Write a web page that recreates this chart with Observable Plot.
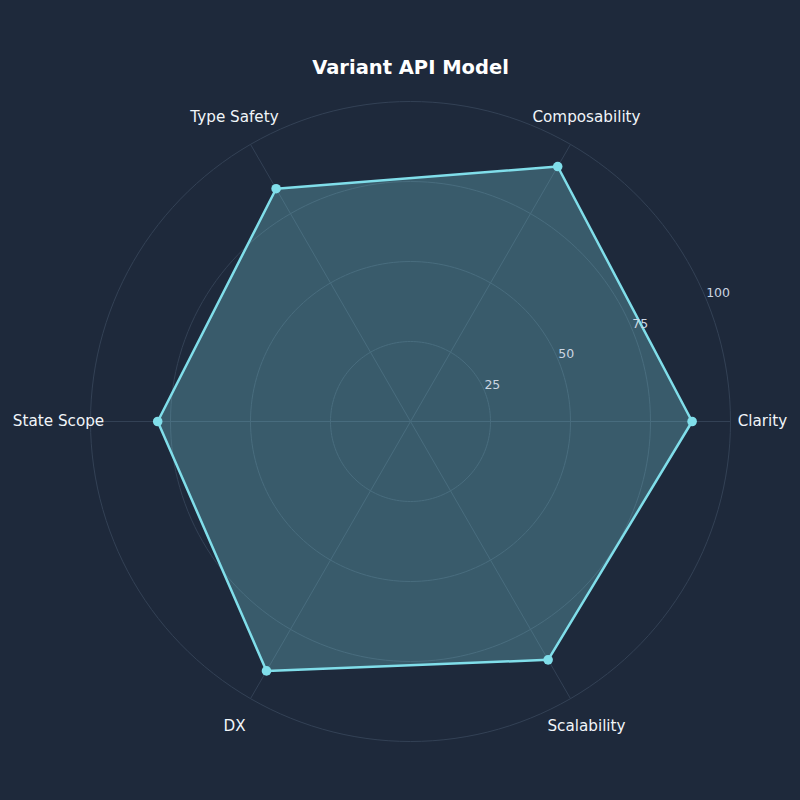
<!DOCTYPE html>
<html>
<head>
<meta charset="utf-8">
<script src="https://cdn.jsdelivr.net/npm/d3@7"></script>
<script src="https://cdn.jsdelivr.net/npm/@observablehq/plot@0.6"></script>
<style>
  html, body { margin: 0; padding: 0; background: #1e293b; }
  #chart { width: 800px; height: 800px; }
</style>
</head>
<body>
<div id="chart"></div>
<script>
const title = "Variant API Model";
const categories = ["Clarity", "Composability", "Type Safety", "State Scope", "DX", "Scalability"];
const values = [88, 92, 84, 79, 90, 86];
const ringTicks = [25, 50, 75, 100];
const ringLabels = ["25", "50", "75", "100"];

const maxR = 100;
const labelR = 110;
const tickAngle = Math.PI / 8; // 22.5°
const n = categories.length;
const angleOf = i => (i * 2 * Math.PI) / n;

const pts = categories.map((c, i) => ({
  cat: c,
  v: values[i],
  x: values[i] * Math.cos(angleOf(i)),
  y: values[i] * Math.sin(angleOf(i))
}));

const spokes = categories.map((c, i) => ({
  x2: maxR * Math.cos(angleOf(i)),
  y2: maxR * Math.sin(angleOf(i))
}));

const ringPts = ringTicks.flatMap(r =>
  d3.range(0, 361, 2).map(a => ({
    ring: r,
    x: r * Math.cos((a * Math.PI) / 180),
    y: r * Math.sin((a * Math.PI) / 180)
  }))
);

const labels = categories.map((c, i) => ({
  cat: c,
  x: labelR * Math.cos(angleOf(i)),
  y: labelR * Math.sin(angleOf(i))
}));

const tickPos = ringTicks.map((r, i) => ({
  label: ringLabels[i],
  x: r * Math.cos(tickAngle),
  y: r * Math.sin(tickAngle)
}));

const gridColor = "#334155";
const lineColor = "#80deea";

const chart = Plot.plot({
  width: 800,
  height: 800,
  marginLeft: 90,
  marginRight: 70,
  marginTop: 101,
  marginBottom: 59,
  x: { domain: [-maxR, maxR], axis: null },
  y: { domain: [-maxR, maxR], axis: null },
  style: { background: "#1e293b", fontFamily: "DejaVu Sans", color: "#e2e8f0" },
  marks: [
    Plot.line(ringPts, { x: "x", y: "y", z: "ring", stroke: gridColor, strokeWidth: 1 }),
    Plot.link(spokes, { x1: 0, y1: 0, x2: "x2", y2: "y2", stroke: gridColor, strokeWidth: 1 }),
    Plot.line(pts, { x: "x", y: "y", curve: "linear-closed", fill: lineColor, fillOpacity: 0.28, stroke: "none" }),
    Plot.line(pts, { x: "x", y: "y", curve: "linear-closed", stroke: lineColor, strokeWidth: 2.5 }),
    Plot.dot(pts, { x: "x", y: "y", r: 4.8, fill: lineColor, stroke: "none" }),
    Plot.text(tickPos, { x: "x", y: "y", text: "label", textAnchor: "start", lineAnchor: "bottom", dy: -2, fill: "#cbd5e1", fontSize: 12.5 }),
    Plot.text(labels, { x: "x", y: "y", text: "cat", textAnchor: "middle", fill: "#f1f5f9", fontSize: 15.2 }),
    Plot.text([title], { frameAnchor: "top", lineAnchor: "middle", dy: -34, text: d => d, fill: "#ffffff", fontSize: 19.5, fontWeight: "bold" })
  ]
});

document.getElementById("chart").appendChild(chart);
</script>
</body>
</html>
